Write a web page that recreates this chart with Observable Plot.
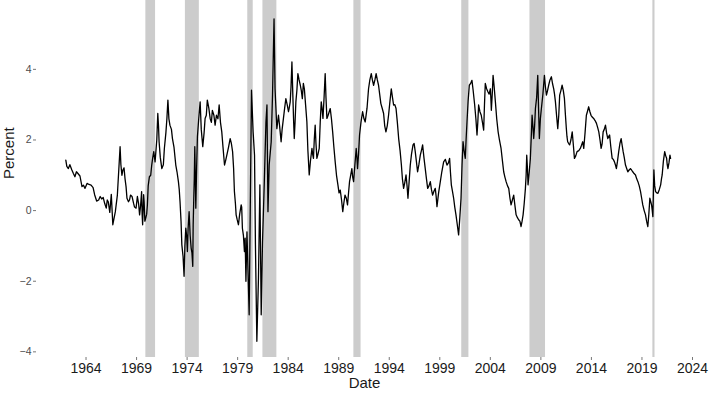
<!DOCTYPE html>
<html><head><meta charset="utf-8">
<script src="https://cdn.jsdelivr.net/npm/d3@7"></script>
<script src="https://cdn.jsdelivr.net/npm/@observablehq/plot@0.6"></script>
<style>body{margin:0;background:#fff;}</style>
</head><body><div id="chart"></div>
<script>
// decimal years and the spread (percent): main turning points
const years = [
1962.0,1962.25,1962.6,1962.9,1963.2,1963.6,1963.9,1964.3,1964.7,1965.05,1965.4,1965.7,1966.0,1966.2,1966.5,1966.65,1966.9,
1967.1,1967.37,1967.55,1967.76,1967.96,1968.2,1968.4,1968.7,1968.95,1969.08,1969.3,1969.5,1969.6,1969.75,1969.9,
1970.07,1970.27,1970.5,1970.7,1970.83,1971.1,1971.23,1971.5,1971.75,1972.1,1972.3,1972.55,1972.88,1973.14,1973.3,1973.48,1973.7,1973.87,
1974.03,1974.2,1974.4,1974.56,1974.66,1974.76,1974.86,1975.02,1975.29,1975.55,1975.78,1976.0,1976.28,1976.5,1976.77,1977.17,1977.43,1977.7,1977.93,
1978.26,1978.5,1978.68,1978.85,1979.08,1979.35,1979.47,1979.67,1979.74,1979.82,1979.92,1980.14,1980.37,1980.53,1980.67,1980.76,1980.9,
1981.06,1981.2,1981.33,1981.46,1981.63,1981.8,1981.9,1982.0,1982.12,1982.32,1982.45,1982.6,1982.7,1982.88,1983.04,1983.3,1983.53,1983.77,
1984.03,1984.2,1984.37,1984.46,1984.6,1984.76,1984.96,1985.2,1985.4,1985.6,1985.85,1986.08,1986.35,1986.5,1986.67,1986.84,1987.07,1987.27,1987.44,1987.66,1987.83,
1988.16,1988.4,1988.65,1988.92,1989.15,1989.4,1989.62,1989.87,1990.07,1990.3,1990.47,1990.73,1990.86,1991.06,1991.36,1991.62,1991.95,
1992.22,1992.45,1992.7,1992.94,1993.17,1993.44,1993.67,1993.93,1994.2,1994.43,1994.67,1994.93,1995.2,1995.42,1995.66,1995.85,
1996.08,1996.35,1996.57,1996.8,1997.07,1997.3,1997.56,1997.8,1998.06,1998.29,1998.55,1998.72,1999.05,1999.38,1999.71,1999.97,
2000.14,2000.37,2000.6,2000.86,2001.1,2001.3,2001.52,2001.69,2001.92,2002.18,2002.45,2002.68,2002.84,2003.1,2003.34,2003.5,2003.77,
2004.0,2004.1,2004.27,2004.5,2004.77,2005.06,2005.32,2005.56,2005.82,2006.05,2006.31,2006.55,2006.8,2007.04,2007.24,2007.47,2007.6,2007.73,2007.96,
2008.13,2008.29,2008.46,2008.69,2008.85,2009.05,2009.35,2009.55,2009.77,2010.04,2010.27,2010.44,2010.67,2010.86,2011.1,2011.33,2011.52,2011.65,2011.85,
2012.1,2012.32,2012.58,2012.9,2013.14,2013.24,2013.5,2013.73,2013.96,2014.22,2014.5,2014.73,2014.96,2015.16,2015.39,2015.62,2015.8,
2016.05,2016.28,2016.47,2016.7,2016.94,2017.14,2017.37,2017.6,2017.86,2018.09,2018.36,2018.6,2018.86,2019.08,2019.35,2019.58,2019.78,2019.95,
2020.08,2020.18,2020.35,2020.58,2020.85,2021.0,2021.25,2021.44,2021.57,2021.77,2021.83
];
const spread = [
1.43,1.19,1.15,0.96,1.05,0.68,0.63,0.74,0.65,0.27,0.40,0.37,0.07,0.25,0.46,-0.40,-0.03,
0.44,1.81,1.00,1.21,0.68,0.25,0.44,0.21,0.07,0.40,-0.12,0.54,-0.40,0.25,-0.22,
0.16,0.96,1.29,1.67,1.38,2.75,1.95,1.19,1.76,3.13,2.42,2.04,1.29,0.82,0.25,-0.97,-1.86,-0.50,
-1.16,-0.03,-1.06,-1.58,0.35,1.81,0.07,2.09,3.08,1.81,2.61,3.13,2.61,2.84,2.42,2.99,2.23,1.29,1.57,
2.04,1.67,0.54,-0.12,-0.40,0.16,-0.50,-1.16,-0.78,-2.00,-0.60,-2.95,3.41,2.23,1.57,-0.97,-3.70,
-1.91,0.73,-2.95,-0.88,0.73,2.51,2.99,-0.03,1.29,1.95,3.27,5.43,3.45,2.32,2.70,1.95,2.61,3.17,
2.80,3.08,4.21,3.27,2.04,3.08,3.88,3.55,3.17,3.45,2.51,1.01,1.76,1.48,2.42,1.48,1.76,3.08,2.61,3.88,2.61,
2.89,2.23,1.38,0.73,0.58,-0.03,0.44,0.16,0.82,1.19,0.82,1.76,1.19,2.14,2.80,2.51,3.45,
3.88,3.55,3.88,3.55,3.03,2.75,2.23,2.70,3.45,2.99,2.89,2.04,1.29,0.63,1.01,0.35,
1.29,1.86,1.67,1.10,1.57,1.86,1.19,0.63,0.82,0.44,0.63,0.11,0.82,1.38,1.29,1.48,
0.73,0.35,-0.12,-0.69,0.35,1.95,1.48,2.51,3.55,3.69,2.99,2.14,2.99,2.70,2.28,3.60,3.36,
3.45,2.84,3.83,3.08,2.23,1.76,1.10,0.82,0.63,0.16,0.44,-0.12,-0.26,-0.45,-0.12,0.63,1.57,0.73,1.48,
2.70,2.04,2.89,3.83,2.04,2.89,3.83,3.27,3.55,3.79,3.45,3.08,2.32,3.27,3.55,3.17,2.32,1.95,1.86,
2.23,1.48,1.67,1.76,1.95,1.76,2.70,2.94,2.70,2.61,2.47,2.23,1.76,2.23,2.42,2.04,2.14,
1.48,1.38,1.19,1.67,2.04,1.67,1.29,1.10,1.19,1.10,1.01,0.82,0.54,0.16,-0.12,-0.45,0.35,0.16,
-0.17,1.15,0.54,0.49,0.73,1.01,1.67,1.48,1.19,1.57,1.48
];
// further readings between the turning points (local wiggles)
const extraYears = [
1962.1,1962.4,1962.75,1963.05,1963.4,1963.75,1964.1,1964.5,1964.85,1965.25,1965.55,1965.85,1966.1,1966.35,
1967.45,1967.65,1967.86,1968.05,1968.3,1968.55,1968.8,1969.2,1969.4,1969.55,1969.7,1969.82,1970.0,1970.15,1970.4,1970.6,
1971.0,1971.17,1971.35,1971.65,1971.9,1972.0,1972.2,1972.45,1972.7,1973.0,1973.22,1973.4,1973.6,1973.78,1973.95,
1974.1,1974.3,1974.48,1974.6,1974.71,1974.81,1974.94,1975.15,1975.4,1975.68,1975.9,1976.15,1976.4,1976.65,1976.9,
1977.05,1977.3,1977.55,1977.8,1978.1,1978.38,1978.6,1978.78,1978.95,1979.2,1979.4,1979.57,
1983.15,1983.4,1983.65,1983.9,1984.1,1984.28,1984.53,1984.68,1984.86,1985.08,1985.3,1985.5,1985.72,1985.95,
1986.2,1986.42,1986.58,1986.75,1986.95,1987.17,1987.35,1987.55,1987.74,1987.95,1988.28,1988.52,1988.78,1989.03,
1989.28,1989.5,1989.75,1989.97,1990.18,1990.38,1990.6,1990.8,1990.96,1991.2,1991.5,1991.8,1992.08,1992.33,1992.58,1992.82,
1993.05,1993.3,1993.55,1993.8,1994.07,1994.32,1994.55,1994.8,1995.07,1995.3,1995.54,1995.76,1995.96,1996.2,1996.46,1996.68,1996.93,
1997.18,1997.43,1997.68,1997.93,1998.17,1998.42,1998.64,1998.88,1999.2,1999.55,1999.85,
2000.05,2000.25,2000.48,2000.73,2000.98,2001.2,2001.4,2001.6,2001.8,2002.05,2002.3,2002.57,2002.76,2002.97,2003.22,2003.42,2003.63,2003.88,
2004.05,2004.19,2004.38,2004.63,2004.9,2005.2,2005.44,2005.7,2005.94,2006.18,2006.43,2006.68,2006.92,2007.14,2007.35,2007.54,2007.67,2007.85,
2008.05,2008.21,2008.38,2008.58,2008.77,2008.95,2009.2,2009.45,2009.66,2009.9,2010.15,2010.35,2010.55,2010.77,2010.98,
2011.22,2011.43,2011.58,2011.75,2011.97,2012.2,2012.45,2012.75,2013.02,2013.37,2013.6,2013.85,2014.08,2014.36,2014.62,2014.85,
2015.06,2015.27,2015.5,2015.71,2015.92,2016.17,2016.37,2016.58,2016.82,2017.04,2017.25,2017.48,2017.73,2017.97,
2018.22,2018.48,2018.73,2018.97,2019.22,2019.46,2019.68,2019.87,2020.02,2020.13,2020.26,2020.46,2020.72,2020.93,2021.12,2021.35,2021.5,2021.67
];
const extraSpread = [
1.25,1.30,1.05,1.10,0.98,0.72,0.77,0.72,0.45,0.30,0.33,0.20,0.30,-0.05,
1.30,1.15,0.90,0.35,0.30,0.40,0.10,0.20,0.15,-0.10,0.45,-0.30,-0.10,0.70,1.00,1.50,
2.00,2.40,1.50,1.30,2.20,2.60,2.60,2.30,1.80,1.10,0.60,-0.30,-1.30,-1.00,-0.70,
-0.50,-0.70,-1.20,-0.40,0.90,1.00,1.20,2.60,2.30,2.20,2.70,2.90,2.50,2.70,2.70,
2.60,2.50,1.80,1.40,1.80,1.90,1.20,0.20,-0.25,-0.10,0.10,-0.70,
2.40,2.30,2.90,3.00,2.90,3.50,2.60,2.50,3.40,3.70,3.40,3.60,3.00,1.70,
1.40,1.60,2.00,1.90,1.60,2.50,2.90,3.20,3.20,2.70,2.60,1.80,1.00,0.50,
0.30,0.20,0.35,0.50,1.00,0.95,1.30,1.50,1.60,2.50,2.60,2.90,3.70,3.70,3.70,3.70,
3.30,2.90,2.40,2.40,3.10,3.20,3.00,2.50,1.70,0.90,0.80,0.70,0.80,1.60,1.90,1.40,1.30,
1.70,1.50,0.90,0.70,0.60,0.55,0.40,0.50,1.10,1.45,1.35,
1.10,0.55,0.10,-0.40,-0.20,1.30,1.70,2.00,3.10,3.60,3.40,2.60,2.50,2.80,2.50,3.00,3.45,3.30,
3.20,3.30,3.50,2.60,2.00,1.40,0.95,0.70,0.35,0.30,0.15,-0.20,-0.30,-0.30,0.20,1.00,1.20,1.10,
2.10,2.40,2.40,3.20,2.90,2.60,3.30,3.50,3.40,3.70,3.60,3.30,2.70,2.70,3.40,
3.40,2.70,2.10,1.90,2.00,1.90,1.55,1.70,1.85,2.20,2.80,2.80,2.65,2.55,2.35,2.00,
1.90,2.30,2.20,2.10,1.80,1.45,1.30,1.40,1.90,1.85,1.50,1.20,1.15,1.15,
1.05,0.90,0.70,0.35,0.00,-0.30,-0.10,0.25,0.00,0.50,0.70,0.50,0.60,0.90,1.40,1.55,1.30,1.35
];
// NBER recessions (decimal years)
const recStart = [1969.92,1973.83,1980.0,1981.5,1990.5,2001.17,2007.92,2020.08];
const recEnd   = [1970.88,1975.21,1980.54,1982.88,1991.21,2001.88,2009.46,2020.29];
const xTicks = [1964,1969,1974,1979,1984,1989,1994,1999,2004,2009,2014,2019,2024];
const yTicks = [-4,-2,0,2,4];

const series = d3.sort(
  years.map((t, i) => ({t, v: spread[i]})).concat(extraYears.map((t, i) => ({t, v: extraSpread[i]}))),
  d => d.t
);
const recessions = recStart.map((s, i) => ({s, e: recEnd[i]}));

const plot = Plot.plot({
  width: 709, height: 395,
  marginTop: 0, marginBottom: 38, marginLeft: 36, marginRight: 17,
  style: {fontFamily: "'Liberation Sans', Arial, sans-serif", background: "white", overflow: "visible"},
  x: {domain: [1959.1, 2024], label: null},
  y: {domain: [-4.16, 5.95], label: null},
  marks: [
    Plot.barX(recessions, {x1: "s", x2: "e", fill: "#cccccc"}),
    Plot.line(series, {x: "t", y: "v", stroke: "black", strokeWidth: 1.3}),
    Plot.axisX({ticks: xTicks, tickFormat: d => String(d), tickSize: 3, tickPadding: 3, fontSize: 14, stroke: "#777", fill: "#1a1a1a", label: null}),
    Plot.axisY({ticks: yTicks, tickSize: 3, tickPadding: 2, fontSize: 10.5, stroke: "#777", fill: "#4d4d4d", label: null}),
    Plot.text(["Date"], {frameAnchor: "bottom", dy: 30, fontSize: 15, fill: "#1a1a1a"}),
    Plot.text(["Percent"], {frameAnchor: "left", dx: -27, rotate: -90, fontSize: 15, fill: "#1a1a1a"})
  ]
});
document.getElementById("chart").appendChild(plot);
</script>
</body></html>
